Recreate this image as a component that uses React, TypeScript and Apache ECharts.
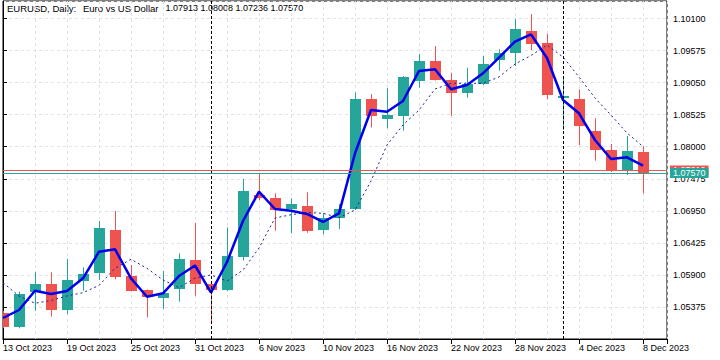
import React, { useEffect, useRef } from 'react';
import * as echarts from 'echarts';

const dates = [
  '13 Oct 2023', '16 Oct 2023', '17 Oct 2023', '18 Oct 2023', '19 Oct 2023', '20 Oct 2023',
  '23 Oct 2023', '24 Oct 2023', '25 Oct 2023', '26 Oct 2023', '27 Oct 2023',
  '30 Oct 2023', '31 Oct 2023', '1 Nov 2023', '2 Nov 2023', '3 Nov 2023',
  '6 Nov 2023', '7 Nov 2023', '8 Nov 2023', '9 Nov 2023', '10 Nov 2023',
  '13 Nov 2023', '14 Nov 2023', '15 Nov 2023', '16 Nov 2023', '17 Nov 2023',
  '20 Nov 2023', '21 Nov 2023', '22 Nov 2023', '23 Nov 2023', '24 Nov 2023',
  '27 Nov 2023', '28 Nov 2023', '29 Nov 2023', '30 Nov 2023', '1 Dec 2023',
  '4 Dec 2023', '5 Dec 2023', '6 Dec 2023', '7 Dec 2023', '8 Dec 2023',
];

const opens = [
  1.05281, 1.05052, 1.05615, 1.05751, 1.05325, 1.05805, 1.05936, 1.06636, 1.05882, 1.05653,
  1.05527, 1.05669, 1.06144, 1.05751, 1.05653, 1.06198, 1.07214, 1.07165, 1.0698, 1.07029,
  1.06636, 1.06832, 1.06975, 1.08781, 1.08454, 1.08503, 1.09081, 1.09404, 1.09093, 1.08875,
  1.09022, 1.0942, 1.0953, 1.09895, 1.09704, 1.08803, 1.08781, 1.08257, 1.07946, 1.07618,
  1.07913,
];
const closes = [
  1.05052, 1.05587, 1.05751, 1.05325, 1.05817, 1.05915, 1.06663, 1.05871, 1.05641, 1.05543,
  1.05599, 1.06161, 1.05743, 1.05653, 1.0621, 1.07274, 1.07155, 1.06963, 1.07062, 1.06624,
  1.0684, 1.0698, 1.08781, 1.08495, 1.08519, 1.09147, 1.09404, 1.09093, 1.08875, 1.09022,
  1.09355, 1.0953, 1.09923, 1.09677, 1.08847, 1.08831, 1.08339, 1.07946, 1.07607, 1.0793,
  1.0757,
];
const lows = [
  1.0503, 1.05025, 1.05314, 1.05216, 1.0526, 1.05641, 1.05817, 1.05828, 1.05628, 1.05206,
  1.05342, 1.05461, 1.05559, 1.05137, 1.05636, 1.06136, 1.07127, 1.06624, 1.06582, 1.06591,
  1.06562, 1.06652, 1.06963, 1.08315, 1.08301, 1.08262, 1.08967, 1.09084, 1.08503, 1.08803,
  1.09011, 1.09245, 1.09322, 1.09584, 1.08781, 1.08274, 1.08028, 1.07771, 1.07586, 1.07537,
  1.07236,
];
const highs = [
  1.05309, 1.05625, 1.05943, 1.05943, 1.06161, 1.06025, 1.06783, 1.06947, 1.06062, 1.05661,
  1.05964, 1.06254, 1.0675, 1.05759, 1.06677, 1.07471, 1.07564, 1.07237, 1.07155, 1.07253,
  1.06914, 1.07062, 1.08888, 1.08863, 1.08957, 1.09158, 1.09519, 1.0965, 1.09212, 1.09294,
  1.09486, 1.09596, 1.10092, 1.10174, 1.09846, 1.0912, 1.0894, 1.08465, 1.08044, 1.08175,
  1.08008,
];
const fastMA = [
  1.05194, 1.05325, 1.05641, 1.05587, 1.05636, 1.05844, 1.0628, 1.0632, 1.05844, 1.05543,
  1.05599, 1.05882, 1.06054, 1.05609, 1.06111, 1.06783, 1.07263, 1.0698, 1.06952, 1.06898,
  1.06767, 1.06909, 1.07892, 1.08601, 1.08573, 1.08749, 1.0924, 1.09268, 1.0894, 1.09011,
  1.09202, 1.09461, 1.09723, 1.09841, 1.09453, 1.08765, 1.08547, 1.0811, 1.07799, 1.07826,
  1.07689,
];
const slowMA = [
  1.05772, 1.05555, 1.05435, 1.05481, 1.05555, 1.05609, 1.05727, 1.06008, 1.06156, 1.06008,
  1.05817, 1.05691, 1.05849, 1.05899, 1.058, 1.0598, 1.06341, 1.06832, 1.06886, 1.06922,
  1.06909, 1.06837, 1.06963, 1.07438, 1.08028, 1.08356, 1.08601, 1.08945, 1.09039, 1.09039,
  1.09039, 1.09142, 1.09355, 1.09494, 1.09666, 1.09469, 1.09142, 1.08798, 1.08519, 1.08225,
  1.08003,
];
const bidPrice = 1.0757;
const askPrice = 1.07612;
const monthStarts = [13, 35];
const titleParts = ['EURUSD, Daily:', 'Euro vs US Dollar', '1.07913 1.08008 1.07236 1.07570'];

const UP = '#26a69a';
const DOWN = '#ef5350';
const FONT = '"Liberation Sans", Arial, sans-serif';

export default function App() {
  const ref = useRef<HTMLDivElement>(null);
  useEffect(() => {
    if (!ref.current) return;
    const chart = echarts.init(ref.current, undefined, { renderer: 'svg' });
    const candleData = dates.map((_, i) => [i, opens[i], closes[i], lows[i], highs[i]]);
    const labelStyle = { fontSize: 9, fontFamily: FONT, color: '#000' };
    const priceLabel = (v: number, c: string) => ({
      show: true,
      position: 'end',
      distance: 3,
      formatter: v.toFixed(5),
      backgroundColor: c,
      color: '#fff',
      padding: [1, 3, 0, 3],
      fontSize: 9,
      lineHeight: 9,
      fontFamily: FONT,
    });
    chart.setOption({
      animation: false,
      backgroundColor: '#fff',
      grid: { left: 3, right: 53, top: 1, bottom: 21, show: true, borderColor: '#000', borderWidth: 1, backgroundColor: '#fff' },
      graphic: [
        { type: 'text', x: 7, y: 8, style: { text: titleParts[0], fontSize: 9.5, fontFamily: FONT, fill: '#000', align: 'left', verticalAlign: 'middle' } },
        { type: 'text', x: 83, y: 8, style: { text: titleParts[1], fontSize: 9.5, fontFamily: FONT, fill: '#000', align: 'left', verticalAlign: 'middle' } },
        { type: 'text', x: 165.5, y: 8, style: { text: titleParts[2], fontSize: 9, fontFamily: FONT, fill: '#000', align: 'left', verticalAlign: 'middle' } },
      ],
      xAxis: [
        {
          type: 'value', min: 0, max: 41.5, interval: 2, position: 'bottom',
          axisLine: { show: true, lineStyle: { color: '#000' } },
          axisTick: { show: false }, axisLabel: { show: false },
          splitLine: { show: true, lineStyle: { color: '#e2e2e2', type: [3, 3] } },
        },
        {
          type: 'value', min: 0, max: 41.5, interval: 4, position: 'bottom',
          axisLine: { show: false },
          axisTick: { show: true, length: 5, lineStyle: { color: '#000' } },
          splitLine: { show: false },
          axisLabel: {
            ...labelStyle, align: 'left', margin: 4,
            formatter: (v: number) => (v % 4 === 0 && v <= 40 ? dates[v] : ''),
          },
        },
      ],
      yAxis: {
        type: 'value', position: 'right', min: 1.0485, max: 1.10387, interval: 0.00525,
        axisLine: { show: true, lineStyle: { color: '#000' } },
        axisTick: { show: true, length: 4, lineStyle: { color: '#000' } },
        axisLabel: { ...labelStyle, margin: 6, showMinLabel: false, showMaxLabel: false, formatter: (v: number) => v.toFixed(5) },
        splitLine: { show: true, lineStyle: { color: '#e2e2e2', type: [3, 3] } },
      },
      series: [
        {
          type: 'custom', xAxisIndex: 0, yAxisIndex: 0, clip: true, z: 2,
          encode: { x: 0, y: [1, 2, 3, 4] },
          data: candleData,
          renderItem: (_p: any, api: any) => {
            const x = api.value(0);
            const o = api.value(1), c = api.value(2), l = api.value(3), h = api.value(4);
            const pO = api.coord([x, o]);
            const pC = api.coord([x, c]);
            const pL = api.coord([x, l]);
            const pH = api.coord([x, h]);
            const color = c >= o ? UP : DOWN;
            const cx = Math.round(pO[0]);
            const top = Math.round(Math.min(pO[1], pC[1]));
            const bot = Math.round(Math.max(pO[1], pC[1]));
            return {
              type: 'group',
              children: [
                { type: 'line', shape: { x1: cx + 0.5, y1: pH[1], x2: cx + 0.5, y2: pL[1] }, style: { stroke: color, lineWidth: 1 } },
                { type: 'rect', shape: { x: cx - 5, y: top, width: 11, height: Math.max(1, bot - top) }, style: { fill: color } },
              ],
            };
          },
        },
        {
          type: 'line', xAxisIndex: 0, yAxisIndex: 0, z: 3, showSymbol: false, clip: false,
          data: slowMA.map((v, i) => [i, v]),
          lineStyle: { color: '#1e1e9a', width: 1, type: [2, 3] },
          emphasis: { disabled: true },
          markLine: {
            silent: true, symbol: ['none', 'none'], animation: false, precision: 5,
            data: [
              ...monthStarts.map((m) => ({ xAxis: m, lineStyle: { color: '#000', type: [3, 2], width: 1 }, label: { show: false } })),
              { yAxis: askPrice, lineStyle: { color: DOWN, type: 'solid', width: 1 }, label: priceLabel(askPrice, DOWN) },
              { yAxis: bidPrice, lineStyle: { color: UP, type: 'solid', width: 1 }, label: priceLabel(bidPrice, UP) },
            ],
          },
        },
        {
          type: 'line', xAxisIndex: 0, yAxisIndex: 0, z: 4, showSymbol: false, clip: true,
          data: fastMA.map((v, i) => [i, v]),
          lineStyle: { color: '#0000ee', width: 2.5 },
          emphasis: { disabled: true },
        },
      ],
    });
    return () => chart.dispose();
  }, []);
  return <div ref={ref} style={{ position: 'fixed', left: 0, top: 0, width: 720, height: 360, background: '#fff' }} />;
}
